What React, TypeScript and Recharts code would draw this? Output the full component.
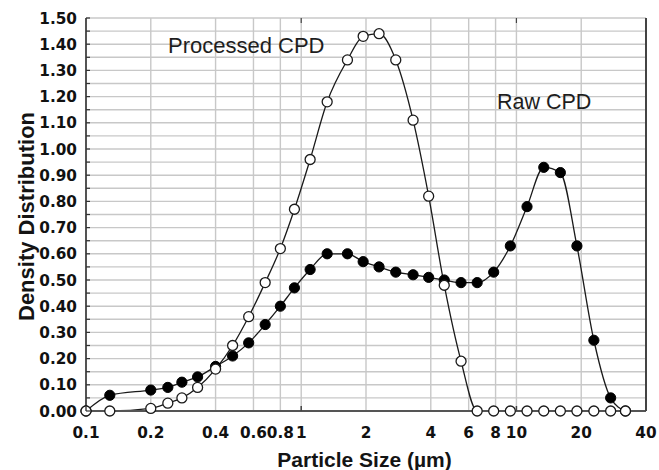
import React from 'react';
import { ComposedChart, Line, XAxis, YAxis, CartesianGrid } from 'recharts';

const particleSizes = [0.1, 0.129, 0.2, 0.24, 0.279, 0.33, 0.4, 0.48, 0.57, 0.68, 0.8, 0.93, 1.1, 1.32, 1.64, 1.94, 2.3, 2.75, 3.31, 3.91, 4.62, 5.53, 6.57, 7.84, 9.37, 11.2, 13.4, 16.0, 19.1, 22.9, 27.4, 32.1];
const processedCPD = [0, 0, 0.01, 0.03, 0.05, 0.09, 0.16, 0.25, 0.36, 0.49, 0.62, 0.77, 0.96, 1.18, 1.34, 1.43, 1.44, 1.34, 1.11, 0.82, 0.48, 0.19, 0, 0, 0, 0, 0, 0, 0, 0, 0, 0];
const rawCPD = [0, 0.06, 0.08, 0.09, 0.11, 0.13, 0.17, 0.21, 0.26, 0.33, 0.40, 0.47, 0.54, 0.60, 0.60, 0.57, 0.55, 0.53, 0.52, 0.51, 0.50, 0.49, 0.49, 0.53, 0.63, 0.78, 0.93, 0.91, 0.63, 0.27, 0.05, 0];
const xTicks = [0.1, 0.2, 0.4, 0.6, 0.8, 1, 2, 4, 6, 8, 10, 20, 40];
const xTopTicks = [1, 10];
const xDecades = [0.1, 1, 10];
const yTicks = [0, 0.05, 0.1, 0.15, 0.2, 0.25, 0.3, 0.35, 0.4, 0.45, 0.5, 0.55, 0.6, 0.65, 0.7, 0.75, 0.8, 0.85, 0.9, 0.95, 1.0, 1.05, 1.1, 1.15, 1.2, 1.25, 1.3, 1.35, 1.4, 1.45, 1.5];

const data = particleSizes.map((s, i) => ({ size: s, processed: processedCPD[i], raw: rawCPD[i] }));

const tickFont = { fontFamily: '"DejaVu Sans", sans-serif', fontWeight: 700, fontSize: 15.3, fill: '#111' };

const YTick = (props: any) => {
  const { x, y, payload } = props;
  const v = payload.value as number;
  const major = Math.round(v * 100) % 10 === 0;
  return (
    <g>
      <line x1={x} y1={y} x2={x + 4} y2={y} stroke="#333" strokeWidth={1.2} />
      {major && (
        <text x={x - 9} y={y} dy="0.36em" textAnchor="end" style={tickFont}>
          {v.toFixed(2)}
        </text>
      )}
    </g>
  );
};

const XTick = (props: any) => {
  const { x, y, payload } = props;
  const v = payload.value as number;
  const decade = xDecades.includes(v);
  return (
    <g>
      {decade && <line x1={x} y1={y} x2={x} y2={y - 5} stroke="#444" strokeWidth={1.5} />}
      <text x={x} y={y + 16} dy="0.71em" textAnchor="middle" style={tickFont}>
        {String(v)}
      </text>
    </g>
  );
};

const TopTick = (props: any) => {
  const { x, y } = props;
  return <line x1={x} y1={y} x2={x} y2={y + 5} stroke="#444" strokeWidth={1.2} />;
};

export default function App() {
  return (
    <div style={{ position: 'absolute', left: 0, top: 0, width: 659, height: 470, background: '#fff' }}>
      <ComposedChart width={659} height={470} data={data} margin={{ top: 17, right: 0, bottom: 0, left: 0 }}>
        <CartesianGrid stroke="#c8c8c8" strokeWidth={1.4} />
        <XAxis
          dataKey="size"
          type="number"
          scale="log"
          domain={[0.1, 40]}
          ticks={xTicks}
          interval={0}
          height={59}
          tickSize={0}
          tickMargin={0}
          tick={<XTick />}
          axisLine={{ stroke: '#555', strokeWidth: 2 }}
          tickLine={false}
        />
        <XAxis
          xAxisId="top"
          dataKey="size"
          type="number"
          scale="log"
          orientation="top"
          domain={[0.1, 40]}
          ticks={xTopTicks}
          interval={0}
          height={1}
          tickSize={0}
          tickMargin={0}
          tick={<TopTick />}
          axisLine={false}
          tickLine={false}
        />
        <YAxis
          type="number"
          domain={[0, 1.5]}
          ticks={yTicks}
          interval={0}
          width={86}
          tickSize={0}
          tickMargin={0}
          tick={<YTick />}
          axisLine={{ stroke: '#333', strokeWidth: 1.6 }}
          tickLine={false}
        />
        <YAxis
          yAxisId="right"
          orientation="right"
          type="number"
          domain={[0, 1.5]}
          width={13}
          tick={false}
          tickLine={false}
          axisLine={{ stroke: '#444', strokeWidth: 2 }}
        />
        <Line
          dataKey="raw"
          type="monotone"
          stroke="#1a1a1a"
          strokeWidth={1.3}
          dot={{ r: 5.1, fill: '#000', stroke: '#000', strokeWidth: 1 }}
          isAnimationActive={false}
        />
        <Line
          dataKey="processed"
          type="monotone"
          stroke="#1a1a1a"
          strokeWidth={1.3}
          dot={{ r: 5, fill: '#fff', stroke: '#1a1a1a', strokeWidth: 1.3 }}
          isAnimationActive={false}
        />
      </ComposedChart>
      <svg width={659} height={470} style={{ position: 'absolute', left: 0, top: 0, pointerEvents: 'none' }}>
        <text x={168} y={53} style={{ fontFamily: '"Liberation Sans", Arial, sans-serif', fontSize: 22, fill: '#1e1e1e' }}>
          Processed CPD
        </text>
        <text x={497} y={109} style={{ fontFamily: '"Liberation Sans", Arial, sans-serif', fontSize: 21.5, fill: '#1e1e1e' }}>
          Raw CPD
        </text>
        <text x={364.5} y={467} textAnchor="middle" style={{ fontFamily: '"Liberation Sans", Arial, sans-serif', fontWeight: 700, fontSize: 21, fill: '#141414' }}>
          Particle Size (µm)
        </text>
        <text
          x={34}
          y={216.5}
          textAnchor="middle"
          transform="rotate(-90 34 216.5)"
          style={{ fontFamily: '"Liberation Sans", Arial, sans-serif', fontWeight: 700, fontSize: 22, fill: '#141414' }}
        >
          Density Distribution
        </text>
      </svg>
    </div>
  );
}
